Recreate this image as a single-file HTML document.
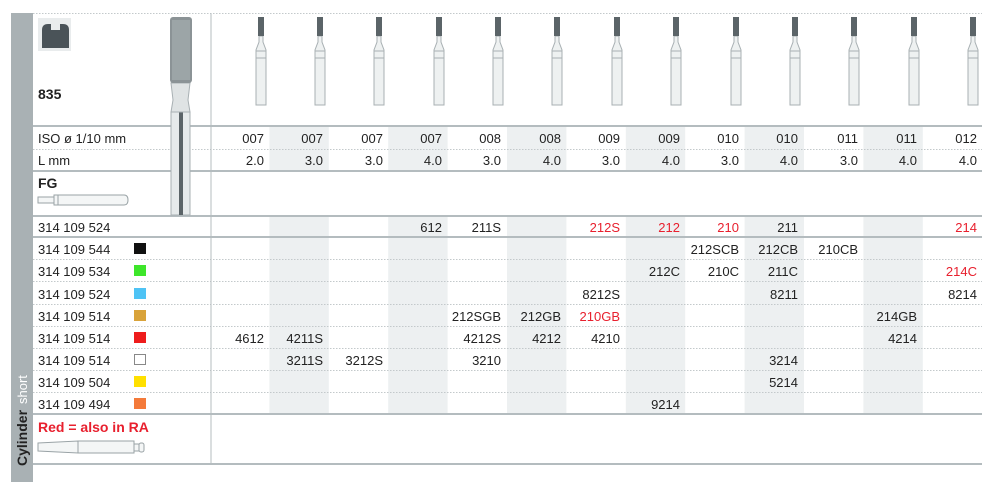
<!DOCTYPE html>
<html><head><meta charset="utf-8"><style>
html,body{margin:0;padding:0;background:#fff;}
svg{display:block;}
text{font-family:"Liberation Sans",sans-serif;font-size:13px;fill:#222;}
.r{fill:#e8202e;}
</style></head><body>
<svg width="1000" height="482" viewBox="0 0 1000 482" xmlns="http://www.w3.org/2000/svg">
<!-- sidebar -->
<rect x="11" y="13" width="22" height="469" fill="#a9b1b4"/>
<text transform="translate(27,466) rotate(-90)" style="font-weight:bold;font-size:14px;fill:#222">Cylinder</text>
<text transform="translate(27,404) rotate(-90)" style="font-size:13px;fill:#fff">short</text>
<!-- shaded columns -->
<g fill="#edf0f1">
<rect x="269.4" y="126" width="59.4" height="45"/><rect x="388.2" y="126" width="59.4" height="45"/><rect x="507" y="126" width="59.4" height="45"/><rect x="625.8" y="126" width="59.4" height="45"/><rect x="744.6" y="126" width="59.4" height="45"/><rect x="863.4" y="126" width="59.4" height="45"/>
<rect x="269.4" y="216" width="59.4" height="198"/><rect x="388.2" y="216" width="59.4" height="198"/><rect x="507" y="216" width="59.4" height="198"/><rect x="625.8" y="216" width="59.4" height="198"/><rect x="744.6" y="216" width="59.4" height="198"/><rect x="863.4" y="216" width="59.4" height="198"/>
</g>
<!-- lines -->
<g stroke="#c3c9cb" stroke-width="1" stroke-dasharray="1.5,1.5">
<line x1="33" y1="13.5" x2="982" y2="13.5"/>
<line x1="33" y1="149.5" x2="982" y2="149.5"/>
<line x1="33" y1="259.5" x2="982" y2="259.5"/>
<line x1="33" y1="281.5" x2="982" y2="281.5"/>
<line x1="33" y1="304.5" x2="982" y2="304.5"/>
<line x1="33" y1="326.5" x2="982" y2="326.5"/>
<line x1="33" y1="348.5" x2="982" y2="348.5"/>
<line x1="33" y1="370.5" x2="982" y2="370.5"/>
<line x1="33" y1="392.5" x2="982" y2="392.5"/>
</g>
<g stroke="#b4bcbf" stroke-width="2">
<line x1="33" y1="126" x2="982" y2="126"/>
<line x1="33" y1="171" x2="982" y2="171"/>
<line x1="33" y1="216" x2="982" y2="216"/>
<line x1="33" y1="237" x2="982" y2="237"/>
<line x1="33" y1="414" x2="982" y2="414"/>
<line x1="33" y1="464" x2="982" y2="464"/>
</g>
<line x1="211" y1="13" x2="211" y2="464" stroke="#b4bcbf" stroke-width="1"/>
<!-- icon -->
<rect x="38" y="18" width="33" height="33" fill="#e9eced"/>
<path d="M42,30 q0,-6 6,-6 h3 v6 h9 v-6 h3 q6,0 6,6 v18 h-27z" fill="#4a5358"/>
<text x="38" y="99" style="font-weight:bold;font-size:14px">835</text>
<!-- big bur -->
<rect x="171" y="112" width="19" height="103" fill="#e6eaeb" stroke="#a8b0b3"/>
<rect x="179" y="112" width="4" height="103" fill="#5b6468"/>
<path d="M171,83 L173,100 L171,112 H190 L188,100 L190,83Z" fill="#dfe3e4" stroke="#a8b0b3"/>
<rect x="170" y="17" width="22" height="66" rx="3" fill="#8b9396"/>
<rect x="172" y="20" width="18" height="60" fill="#a9b0b3" opacity=".6"/>
<!-- left labels -->
<text x="38" y="143">ISO ø 1/10 mm</text>
<text x="38" y="165">L mm</text>
<text x="38" y="188" style="font-weight:bold;font-size:14px">FG</text>
<g fill="#f4f6f6" stroke="#9aa3a6"><rect x="38" y="197" width="16" height="6"/><rect x="54" y="195" width="4" height="10"/><path d="M58,195 H124 q4,0 4,5 q0,5 -4,5 H58z"/></g>
<text x="38" y="232">314 109 524</text>
<text x="38" y="254">314 109 544</text>
<text x="38" y="276">314 109 534</text>
<text x="38" y="299">314 109 524</text>
<text x="38" y="321">314 109 514</text>
<text x="38" y="343">314 109 514</text>
<text x="38" y="365">314 109 514</text>
<text x="38" y="387">314 109 504</text>
<text x="38" y="409">314 109 494</text>
<rect x="134" y="243" width="12" height="11" fill="#111"/>
<rect x="134" y="265" width="12" height="11" fill="#3ee62a"/>
<rect x="134" y="288" width="12" height="11" fill="#4ec3f5"/>
<rect x="134" y="310" width="12" height="11" fill="#d9a33a"/>
<rect x="134" y="332" width="12" height="11" fill="#ee1c1c"/>
<rect x="134.5" y="354.5" width="11" height="10" fill="#fff" stroke="#888"/>
<rect x="134" y="376" width="12" height="11" fill="#ffe000"/>
<rect x="134" y="398" width="12" height="11" fill="#f47a3a"/>
<text x="38" y="432" class="r" style="font-weight:bold;font-size:14px;fill:#e8202e">Red = also in RA</text>
<g fill="#f4f6f6" stroke="#9aa3a6"><path d="M38,443 L78,441 V453 L38,451z"/><rect x="78" y="441" width="56" height="12"/><rect x="134" y="444" width="5" height="7"/><rect x="139" y="443" width="5" height="9" rx="2"/></g>
<!-- small burs -->
<defs>
<g id="b"><rect x="-5" y="58" width="10" height="47" fill="#eef1f1" stroke="#a8b0b3"/><path d="M-2,36 L-2,42 L-5,50 L-5,58 H5 L5,50 L2,42 L2,36Z" fill="#eef1f1" stroke="#a8b0b3"/><line x1="-5" y1="51" x2="5" y2="51" stroke="#a8b0b3"/></g>
</defs>
<g>
<use href="#b" x="261"/><use href="#b" x="320"/><use href="#b" x="379"/><use href="#b" x="439"/><use href="#b" x="498"/><use href="#b" x="557"/><use href="#b" x="617"/><use href="#b" x="676"/><use href="#b" x="736"/><use href="#b" x="795"/><use href="#b" x="854"/><use href="#b" x="914"/><use href="#b" x="973"/>
</g>
<g fill="#5b6468">
<rect x="258" y="17" width="6" height="19"/><rect x="317" y="17" width="6" height="19"/><rect x="376" y="17" width="6" height="19"/><rect x="436" y="17" width="6" height="19"/><rect x="495" y="17" width="6" height="19"/><rect x="554" y="17" width="6" height="19"/><rect x="614" y="17" width="6" height="19"/><rect x="673" y="17" width="6" height="19"/><rect x="733" y="17" width="6" height="19"/><rect x="792" y="17" width="6" height="19"/><rect x="851" y="17" width="6" height="19"/><rect x="911" y="17" width="6" height="19"/><rect x="970" y="17" width="6" height="19"/>
</g>
<!-- data -->
<g text-anchor="end">
<text x="264" y="143">007</text><text x="323" y="143">007</text><text x="383" y="143">007</text><text x="442" y="143">007</text><text x="501" y="143">008</text><text x="561" y="143">008</text><text x="620" y="143">009</text><text x="680" y="143">009</text><text x="739" y="143">010</text><text x="798" y="143">010</text><text x="858" y="143">011</text><text x="917" y="143">011</text><text x="977" y="143">012</text>
<text x="264" y="165">2.0</text><text x="323" y="165">3.0</text><text x="383" y="165">3.0</text><text x="442" y="165">4.0</text><text x="501" y="165">3.0</text><text x="561" y="165">4.0</text><text x="620" y="165">3.0</text><text x="680" y="165">4.0</text><text x="739" y="165">3.0</text><text x="798" y="165">4.0</text><text x="858" y="165">3.0</text><text x="917" y="165">4.0</text><text x="977" y="165">4.0</text>
<text x="442" y="232">612</text><text x="501" y="232">211S</text><text x="620" y="232" class="r">212S</text><text x="680" y="232" class="r">212</text><text x="739" y="232" class="r">210</text><text x="798" y="232">211</text><text x="977" y="232" class="r">214</text>
<text x="739" y="254">212SCB</text><text x="798" y="254">212CB</text><text x="858" y="254">210CB</text>
<text x="680" y="276">212C</text><text x="739" y="276">210C</text><text x="798" y="276">211C</text><text x="977" y="276" class="r">214C</text>
<text x="620" y="299">8212S</text><text x="798" y="299">8211</text><text x="977" y="299">8214</text>
<text x="501" y="321">212SGB</text><text x="561" y="321">212GB</text><text x="620" y="321" class="r">210GB</text><text x="917" y="321">214GB</text>
<text x="264" y="343">4612</text><text x="323" y="343">4211S</text><text x="501" y="343">4212S</text><text x="561" y="343">4212</text><text x="620" y="343">4210</text><text x="917" y="343">4214</text>
<text x="323" y="365">3211S</text><text x="383" y="365">3212S</text><text x="501" y="365">3210</text><text x="798" y="365">3214</text>
<text x="798" y="387">5214</text>
<text x="680" y="409">9214</text>
</g>
</svg>
</body></html>
